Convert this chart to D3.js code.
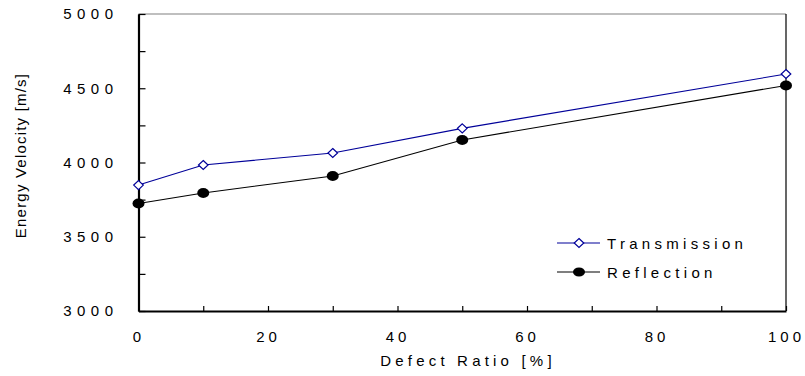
<!DOCTYPE html>
<html>
  <head>
    <meta charset='utf-8'>
    <script src='https://d3js.org/d3.v7.min.js'></script>
    <style>
      body { margin: 0; background: #fff; }
      text { font-family: 'Liberation Sans', Arial, sans-serif; fill: #000; }
    </style>
  </head>
<body>
  <script type='text/javascript'>
    'use strict';

    // Data
    var defectRatio = [0, 10, 30, 50, 100];
    var transmission = [3848, 3983, 4064, 4230, 4596];
    var reflection = [3724, 3795, 3909, 4152, 4519];
    var xTicks = [0, 10, 20, 30, 40, 50, 60, 70, 80, 90, 100];
    var yTicks = [3000, 3250, 3500, 3750, 4000, 4250, 4500, 4750, 5000];
    var seriesNames = ['Transmission', 'Reflection'];

    var WIDTH = 805,
        HEIGHT = 376;

    var svg = d3.select('body')
      .append('svg')
      .attr('width', WIDTH)
      .attr('height', HEIGHT);

    var x = d3.scaleLinear().domain([0, 100]).range([138.5, 786]);
    var y = d3.scaleLinear().domain([3000, 5000]).range([311, 14]);

    // top and right frame lines
    svg.append('line')
      .attr('x1', x(0)).attr('x2', x(100))
      .attr('y1', y(5000)).attr('y2', y(5000))
      .attr('stroke', '#808080').attr('stroke-width', 1.2);
    svg.append('line')
      .attr('x1', x(100)).attr('x2', x(100))
      .attr('y1', y(5000)).attr('y2', y(3000))
      .attr('stroke', '#000').attr('stroke-width', 1.2);

    // y axis, ticks inside, labels every 500
    var yAxis = svg.append('g')
      .attr('transform', 'translate(' + x(0) + ',0)')
      .call(d3.axisLeft(y)
        .tickValues(yTicks)
        .tickSizeInner(-7)
        .tickSizeOuter(0)
        .tickPadding(20)
        .tickFormat(function (d) { return d % 500 === 0 ? d : ''; }));

    // x axis, ticks inside, labels every 20
    var xAxis = svg.append('g')
      .attr('transform', 'translate(0,' + y(3000) + ')')
      .call(d3.axisBottom(x)
        .tickValues(xTicks)
        .tickSizeInner(-5)
        .tickSizeOuter(0)
        .tickPadding(20)
        .tickFormat(function (d) { return d % 20 === 0 ? d : ''; }));

    [yAxis, xAxis].forEach(function (g) {
      g.select('.domain').attr('stroke', '#000').attr('stroke-width', 2.2);
      g.selectAll('.tick line').attr('stroke', '#000').attr('stroke-width', 1.2);
      g.selectAll('.tick text')
        .attr('fill', '#000')
        .style('font-size', '15px')
        .style('font-family', "'Liberation Sans', Arial, sans-serif");
    });
    yAxis.selectAll('.tick text').style('letter-spacing', '5.5px');
    xAxis.selectAll('.tick text').style('letter-spacing', '4px');

    // axis titles
    svg.append('text')
      .attr('x', 468)
      .attr('y', 366)
      .attr('text-anchor', 'middle')
      .style('font-size', '15px')
      .style('letter-spacing', '4.2px')
      .text('Defect Ratio [%]');

    svg.append('text')
      .attr('transform', 'translate(26,155.5) rotate(-90)')
      .attr('text-anchor', 'middle')
      .style('font-size', '15px')
      .style('letter-spacing', '1.2px')
      .text('Energy Velocity [m/s]');

    // lines
    var line = d3.line()
      .x(function (d) { return x(d[0]); })
      .y(function (d) { return y(d[1]); });

    var tData = defectRatio.map(function (d, i) { return [d, transmission[i]]; });
    var rData = defectRatio.map(function (d, i) { return [d, reflection[i]]; });

    svg.append('path')
      .datum(rData)
      .attr('d', line)
      .attr('fill', 'none')
      .attr('stroke', '#000')
      .attr('stroke-width', 1.1);

    svg.append('path')
      .datum(tData)
      .attr('d', line)
      .attr('fill', 'none')
      .attr('stroke', '#000099')
      .attr('stroke-width', 1.1);

    // markers
    var diamond = function (cx, cy) {
      return 'M' + cx + ',' + (cy - 4.5) + 'L' + (cx + 4.8) + ',' + cy +
             'L' + cx + ',' + (cy + 4.5) + 'L' + (cx - 4.8) + ',' + cy + 'Z';
    };

    svg.selectAll('.rdot')
      .data(rData)
      .enter()
      .append('ellipse')
      .attr('cx', function (d) { return x(d[0]); })
      .attr('cy', function (d) { return y(d[1]); })
      .attr('rx', 6)
      .attr('ry', 5)
      .attr('fill', '#000');

    svg.selectAll('.tdot')
      .data(tData)
      .enter()
      .append('path')
      .attr('d', function (d) { return diamond(x(d[0]), y(d[1])); })
      .attr('fill', '#fff')
      .attr('stroke', '#000099')
      .attr('stroke-width', 1.2);

    // legend
    var legendY = [243, 272];
    seriesNames.forEach(function (name, i) {
      var ly = legendY[i];
      var col = i === 0 ? '#000099' : '#000';
      svg.append('line')
        .attr('x1', 557).attr('x2', 600)
        .attr('y1', ly).attr('y2', ly)
        .attr('stroke', col).attr('stroke-width', 1.1);
      if (i === 0) {
        svg.append('path')
          .attr('d', diamond(579, ly))
          .attr('fill', '#fff')
          .attr('stroke', col)
          .attr('stroke-width', 1.2);
      } else {
        svg.append('ellipse')
          .attr('cx', 579).attr('cy', ly)
          .attr('rx', 6).attr('ry', 4.5)
          .attr('fill', '#000');
      }
      svg.append('text')
        .attr('x', 607)
        .attr('y', ly + 5.5)
        .style('font-size', '15px')
        .style('letter-spacing', '4.3px')
        .text(name);
    });
  </script>
</body>
</html>
